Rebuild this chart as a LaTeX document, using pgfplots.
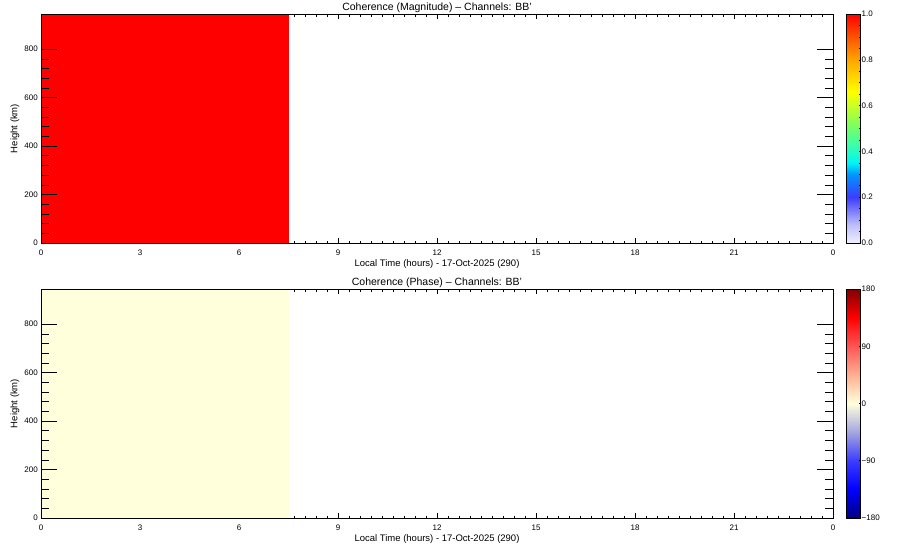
\documentclass[border=0pt]{standalone}
\usepackage{pgfplots}
\pgfplotsset{compat=1.18}
\usepackage{fontspec}
\setmainfont{Liberation Sans}
\newcommand{\fs}{\fontsize{8}{9.6}\selectfont}
\newcommand{\fl}{\fontsize{9.5}{11}\selectfont}
\newcommand{\ft}{\fontsize{10.5}{12}\selectfont}
\pgfplotsset{
  colormap={coh}{rgb255(0cm)=(240,240,255) rgb255(0.8cm)=(190,190,250) rgb255(2cm)=(60,60,255) rgb255(3cm)=(0,150,255) rgb255(3.5cm)=(0,245,245) rgb255(4.3cm)=(60,255,170) rgb255(5.2cm)=(130,255,90) rgb255(6.6cm)=(255,255,0) rgb255(8cm)=(255,165,0) rgb255(10cm)=(255,0,0)},
  colormap={phs}{rgb255(0cm)=(0,0,130) rgb255(4.5cm)=(0,0,255) rgb255(9cm)=(60,60,255) rgb255(13.5cm)=(165,165,225) rgb255(18cm)=(255,255,220) rgb255(22.5cm)=(255,175,145) rgb255(27cm)=(255,85,85) rgb255(31.5cm)=(255,0,0) rgb255(36cm)=(128,0,0)},
  base/.style={
    scale only axis, width=792pt, height=229pt, anchor=south west,
    xmin=0, xmax=24, ymin=0, ymax=945,
    axis line style={line width=0.6pt}, every tick/.style={black, line width=0.6pt},
    tick align=inside,
    tick label style={font=\fs},
    label style={font=\fl},
    title style={font=\ft},
  },
  xpart/.style={
    base,
    xtick={0,3,...,24}, xticklabels={0,3,6,9,12,15,18,21,0}, minor x tick num=8,
    ytick=\empty,
    major tick length=5pt, minor tick length=2.5pt,
    xticklabel style={anchor=base, yshift=-12pt, inner sep=0pt},
    xlabel={Local Time (hours) - 17-Oct-2025 (290)},
    xlabel style={at={(axis description cs:0.5,0)}, anchor=base, yshift=-23pt, inner sep=0pt},
    title style={at={(axis description cs:0.5,1)}, anchor=base, yshift=-2pt, inner sep=0pt},
  },
  ypart/.style={
    base,
    xtick=\empty,
    ytick={0,200,...,800}, minor y tick num=4,
    major tick length=16pt, minor tick length=8pt,
    yticklabel style={anchor=east, inner sep=0pt, xshift=-3pt},
    /pgf/number format/assume math mode=true,
    ylabel={Height (km)},
    ylabel style={at={(axis description cs:-0.0328,0.5)}, anchor=center, inner sep=0pt},
  },
  cb/.style={
    at={(parent axis.north east)}, anchor=north west, xshift=5pt,
    scale only axis, width=14pt, height=229pt,
    axis line style={line width=0.6pt},
    ytick pos=right, yticklabel pos=right, tick align=inside,
    major tick length=2pt, minor tick length=1.2pt,
    every tick/.style={black, line width=0.6pt},
    yticklabel style={font=\fs, anchor=west, inner sep=0pt, xshift=1pt},
  },
}
\begin{document}
\begin{tikzpicture}
\path[use as bounding box] (0,0) rectangle (900pt,550pt);
% ---------- top panel: magnitude ----------
\begin{axis}[xpart, at={(41pt,307pt)},
  title={Coherence (Magnitude) -- Channels: BB'},
  colormap name=coh, point meta min=0, point meta max=1,
  colorbar,
  colorbar style={cb, ytick={0,0.2,0.4,0.6,0.8,1.0}, yticklabels={0.0,0.2,0.4,0.6,0.8,1.0}, minor ytick={0.05,0.1,...,0.96}},
]
\addplot[surf, shader=flat, mesh/rows=2, point meta=explicit] coordinates {
  (0,0) [1.0] (7.5,0) [1.0]

  (0,945) [1.0] (7.5,945) [1.0]
};
\end{axis}
\begin{axis}[ypart, at={(41pt,307pt)}]
\end{axis}
% ---------- bottom panel: phase ----------
\begin{axis}[xpart, at={(41pt,32pt)},
  title={Coherence (Phase) -- Channels: BB'},
  colormap name=phs, point meta min=-180, point meta max=180,
  colorbar,
  colorbar style={cb, ytick={-180,-90,0,90,180}, yticklabels={−180,−90,0,90,180}},
]
\addplot[surf, shader=flat, mesh/rows=2, point meta=explicit] coordinates {
  (0,0) [0] (7.5,0) [0]

  (0,945) [0] (7.5,945) [0]
};
\end{axis}
\begin{axis}[ypart, at={(41pt,32pt)}]
\end{axis}
\end{tikzpicture}
\end{document}
